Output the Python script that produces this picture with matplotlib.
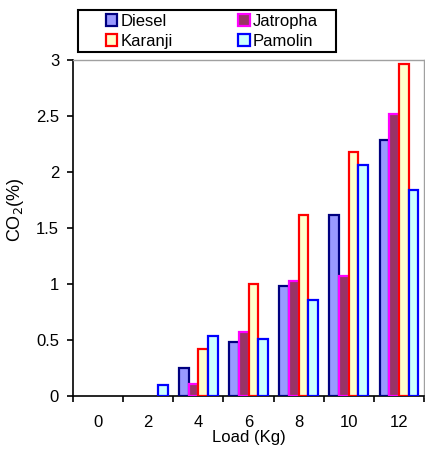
import matplotlib
matplotlib.use("Agg")
import matplotlib.pyplot as plt
from matplotlib.patches import Patch, Rectangle
import numpy as np

plt.rcParams['font.family'] = ['Liberation Sans', 'DejaVu Sans']

loads = ['0', '2', '4', '6', '8', '10', '12']
diesel = [0.0, 0.0, 0.25, 0.48, 0.98, 1.62, 2.29]
jatropha = [0.0, 0.0, 0.11, 0.57, 1.03, 1.07, 2.52]
karanji = [0.0, 0.0, 0.42, 1.00, 1.62, 2.18, 2.96]
pamolin = [0.0, 0.10, 0.54, 0.51, 0.86, 2.06, 1.84]

series = [
    ('Diesel', diesel, '#9999FF', '#000080'),
    ('Jatropha', jatropha, '#993366', '#FF00FF'),
    ('Karanji', karanji, '#FFFFCC', '#FF0000'),
    ('Pamolin', pamolin, '#CCFFFF', '#0000FF'),
]

fig = plt.figure(figsize=(4.25, 4.5), dpi=100)
ax = fig.add_axes([73/425, 1-396/450, 351/425, 336/450])

x = np.arange(len(loads))
w = 0.193
handles = {}
for i, (name, vals, fc, ec) in enumerate(series):
    b = ax.bar(x + (i - 1.5) * w, vals, width=w, facecolor=fc, edgecolor=ec,
               linewidth=1.6, label=name, zorder=3)
    for patch, v in zip(b.patches, vals):
        if v <= 0:
            patch.set_visible(False)
    handles[name] = Patch(facecolor=fc, edgecolor=ec, linewidth=1.6)

ax.set_xlim(-0.5, len(loads) - 0.5)
ax.set_ylim(0, 3)
ax.set_yticks(np.arange(0, 3.01, 0.5))
ax.set_yticklabels(['0', '0.5', '1', '1.5', '2', '2.5', '3'])
ax.set_xticks(x)
ax.set_xticklabels(loads)
ax.set_xticks(np.arange(-0.5, len(loads), 1.0), minor=True)
ax.tick_params(axis='x', which='major', length=0, pad=14, labelsize=12)
ax.tick_params(axis='x', which='minor', length=4, width=1.2, direction='out', color='black')
ax.tick_params(axis='y', length=4, width=1.2, direction='out', labelsize=12, pad=6)

for s in ['left', 'bottom']:
    ax.spines[s].set_color('black')
    ax.spines[s].set_linewidth(1.2)
for s in ['top', 'right']:
    ax.spines[s].set_color('#a0a0a0')
    ax.spines[s].set_linewidth(1.0)

ax.set_xlabel('Load (Kg)', fontsize=12, labelpad=0)
ax.set_ylabel('CO$_2$(%)', fontsize=13)
ax.yaxis.set_label_coords(-0.135, 0.553)

# legend frame
fig.patches.append(Rectangle((78/425, 1-52/450), 258/425, 42/450,
                             transform=fig.transFigure, facecolor='white',
                             edgecolor='black', linewidth=1.5, zorder=5))

order = ['Diesel', 'Karanji', 'Jatropha', 'Pamolin']
leg = fig.legend(handles=[handles[n] for n in order], labels=order, ncol=2,
                 loc='center', bbox_to_anchor=(212/425, 1-31.5/450),
                 fontsize=12, frameon=False,
                 handlelength=0.7, handleheight=0.7, handletextpad=0.2,
                 columnspacing=3.9, borderpad=0.0, labelspacing=0.3,
                 borderaxespad=0)
leg.set_zorder(6)

fig.savefig('out.png', dpi=100)
